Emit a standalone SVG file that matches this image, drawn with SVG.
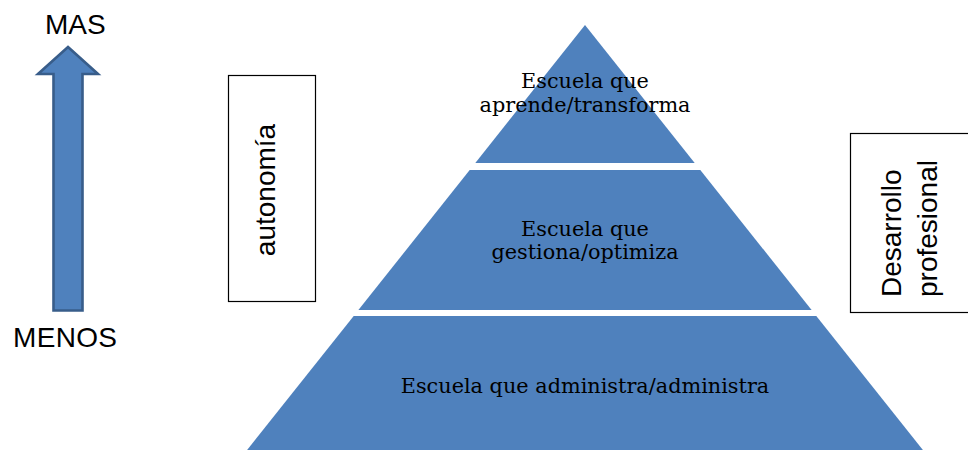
<svg xmlns="http://www.w3.org/2000/svg" width="968" height="450" viewBox="0 0 968 450">
<style>
.tier{fill:#4F81BD;}
.serif{font-family:"DejaVu Serif","Liberation Serif",serif;font-size:20.8px;fill:#000;text-anchor:middle;}
.sans{font-family:"Liberation Sans",Arial,sans-serif;font-size:28px;fill:#000;}
.box{fill:#fff;stroke:#000;stroke-width:1.2;}
</style>
<rect width="968" height="450" fill="#fff"/>
<g id="arrow">
<polygon points="68,47 98,74 82.5,74 82.5,310.5 53.5,310.5 53.5,74 38,74" fill="#4F81BD" stroke="#385D8A" stroke-width="2.6" stroke-linejoin="miter"/>
<text class="sans" x="45" y="34">MAS</text>
<text class="sans" x="13" y="347" textLength="104">MENOS</text>
</g>
<g id="autonomia">
<rect class="box" x="228.5" y="75.5" width="87" height="226"/>
<text class="sans" transform="translate(275,190) rotate(-90)" text-anchor="middle">autonomía</text>
</g>
<g id="desarrollo">
<rect class="box" x="850.5" y="133.5" width="130" height="179"/>
<text class="sans" transform="translate(901,297) rotate(-90)">Desarrollo</text>
<text class="sans" transform="translate(937,297) rotate(-90)">profesional</text>
</g>
<g id="tier-top">
<polygon class="tier" points="585,25 694.7,163 475.3,163"/>
<text class="serif" x="585" y="88">Escuela que</text>
<text class="serif" x="585" y="112">aprende/transforma</text>
</g>
<g id="tier-middle">
<polygon class="tier" points="469.7,170 700.3,170 811.6,310 358.4,310"/>
<text class="serif" x="585" y="236">Escuela que</text>
<text class="serif" x="585" y="259">gestiona/optimiza</text>
</g>
<g id="tier-bottom">
<polygon class="tier" points="353.7,316 816.3,316 923.7,451 246.3,451"/>
<text class="serif" x="585" y="393">Escuela que administra/administra</text>
</g>
<g id="connectors"></g>
</svg>
